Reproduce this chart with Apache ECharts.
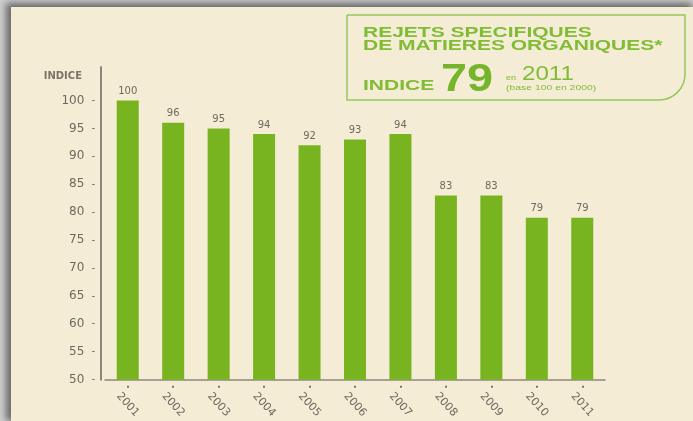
<!DOCTYPE html>
<html>
<head>
<meta charset="utf-8">
<script src="https://cdn.jsdelivr.net/npm/echarts@6/dist/echarts.min.js"></script>
<style>
html,body{margin:0;padding:0;}
body{width:693px;height:421px;background:#cfcfcf;position:relative;overflow:hidden;}
#paper{position:absolute;left:11px;top:7px;right:0;bottom:0;background:#f5ecd6;box-shadow:-3px -2px 7px 2px rgba(0,0,0,0.5);}
#main{position:absolute;left:0;top:0;width:693px;height:421px;}
</style>
</head>
<body>
<div id="paper"></div>
<div id="main"></div>
<script>
// indice des rejets de matieres organiques (base 100)
var years = ['2001','2002','2003','2004','2005','2006','2007','2008','2009','2010','2011'];
var indices = [100, 96, 95, 94, 92, 93, 94, 83, 83, 79, 79];

var titleLines = ['REJETS SPECIFIQUES', 'DE MATIERES ORGANIQUES*'];
var headline = {label: 'INDICE', value: '79', prep: 'en', year: '2011', note: '(base 100 en 2000)'};

var grey = '#6e695f';
var green = '#80bc34';
var font = "'DejaVu Sans', sans-serif";
var titleFont = "'Liberation Sans', Arial, sans-serif";

var chart = echarts.init(document.getElementById('main'), null, {renderer: 'canvas'});

function txt(str, x, y, size, weight, sx, color) {
    return {
        type: 'text', x: x, y: y, scaleX: sx || 1,
        style: {
            text: str, x: 0, y: 0,
            font: weight + ' ' + size + 'px ' + titleFont,
            fill: color || green,
            textAlign: 'left', textVerticalAlign: 'middle'
        }
    };
}

var option = {
    backgroundColor: 'transparent',
    animation: false,
    grid: {left: 105, right: 88, top: 67, bottom: 41},
    xAxis: [{
        type: 'category',
        data: years,
        axisLine: {lineStyle: {color: '#8b867b', width: 1.5}},
        axisTick: {show: false},
        axisLabel: {
            rotate: -48, align: 'center', verticalAlign: 'middle',
            margin: 25, fontSize: 11, color: grey, fontFamily: font
        }
    }, {
        // petits points sous chaque annee
        type: 'category',
        data: years,
        position: 'bottom',
        offset: 6,
        axisLine: {show: false},
        axisTick: {show: true, alignWithLabel: true, length: 2, lineStyle: {color: '#777', width: 2}},
        axisLabel: {show: false}
    }],
    yAxis: {
        type: 'value',
        min: 50, max: 106, interval: 5,
        offset: 4,
        name: 'INDICE',
        nameLocation: 'end',
        nameGap: -9,
        nameTextStyle: {
            align: 'right', verticalAlign: 'middle', padding: [0, 19, 0, 0],
            fontSize: 10, fontWeight: 'bold', color: '#7a756a', fontFamily: font
        },
        axisLine: {show: true, lineStyle: {color: '#8b867b', width: 2}},
        axisTick: {show: false},
        splitLine: {show: false},
        axisLabel: {
            margin: 6, color: grey, fontFamily: font,
            formatter: function (v) { return v <= 100 ? '{v|' + v + '}{d|-}' : ''; },
            rich: {
                v: {fontSize: 12, color: grey, fontFamily: font},
                d: {fontSize: 10, color: grey, fontFamily: font, padding: [0, 0, 0, 7]}
            }
        }
    },
    series: [{
        type: 'bar',
        data: indices,
        barWidth: 22,
        itemStyle: {color: '#78b320'},
        label: {
            show: true, position: 'top', distance: 4,
            fontSize: 10, color: grey, fontFamily: font
        }
    }],
    graphic: [
        {
            type: 'rect',
            shape: {x: 347, y: 15, width: 338, height: 85, r: [0, 0, 26, 0]},
            style: {fill: 'none', stroke: '#95c85a', lineWidth: 1.5}
        },
        txt(titleLines[0], 363, 33, 14, 'bold', 1.5),
        txt(titleLines[1], 363, 46.5, 14, 'bold', 1.5),
        txt(headline.label, 363, 86, 15, 'bold', 1.4),
        txt(headline.value, 441, 80, 39, 'bold', 1.2, '#76b52a'),
        txt(headline.prep, 506, 78, 7, 'normal', 1.3),
        txt(headline.year, 522, 74.5, 21, 'normal', 1.15),
        txt(headline.note, 506, 88.5, 6.5, 'normal', 1.6)
    ]
};

chart.setOption(option);
</script>
</body>
</html>
